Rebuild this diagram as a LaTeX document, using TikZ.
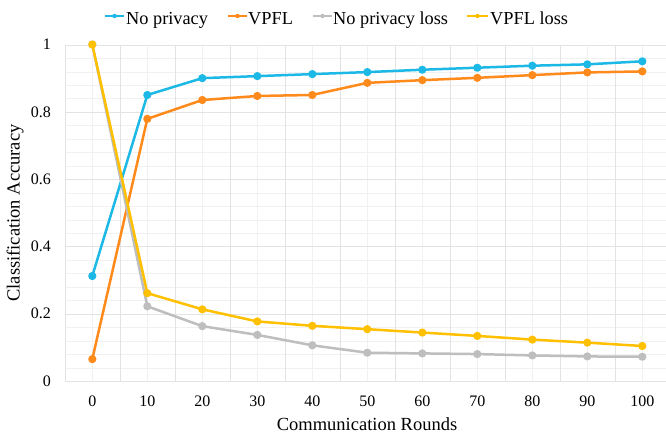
\documentclass[tikz,border=0pt]{standalone}
\usepackage{fontspec}
\setmainfont{Liberation Serif}
\usetikzlibrary{calc}
\definecolor{cBlue}{HTML}{1CB9E6}
\definecolor{cOrange}{HTML}{FF8A1C}
\definecolor{cGray}{HTML}{BEBEBE}
\definecolor{cYellow}{HTML}{FFC000}
\definecolor{gridMajor}{HTML}{E3E3E3}
\definecolor{gridMinor}{HTML}{F1F1F1}
\begin{document}
\begin{tikzpicture}[x=1pt,y=-1pt,
  series/.style={color=#1, line width=2.5pt, line join=round,
    mark=*, mark size=2.8pt, mark options={draw=none, fill=#1}},
  keyline/.style={color=#1, line width=2pt},
  keydot/.style={fill=#1, draw=none, circle, inner sep=0pt, minimum size=4.4pt},
  keytext/.style={anchor=base west, inner sep=0pt, font=\fontsize{18.3}{20}\selectfont},
  ticklab/.style={inner sep=0pt, font=\fontsize{16}{18}\selectfont},
  axtitle/.style={inner sep=0pt, font=\fontsize{18.5}{20}\selectfont}]
\useasboundingbox (0,0) rectangle (666,435);
\fill[white] (0,0) rectangle (666,435);

% grid: minor lines first, then major lines
\begin{scope}
  \clip (64.5,44.5) rectangle (666,381.5);
  \foreach \k in {0,...,25}
    \draw[gridMinor, line width=0.8pt] (65,{45+13.46*\k}) -- (666,{45+13.46*\k});
  \foreach \k in {0,...,10}
    \draw[gridMinor, line width=0.8pt] ({92.3+55*\k},45) -- ({92.3+55*\k},381);
  \foreach \k in {0,...,5}
    \draw[gridMajor, line width=0.8pt] (65,{45+67.3*\k}) -- (666,{45+67.3*\k});
  \foreach \k in {0,...,10}
    \draw[gridMajor, line width=0.8pt] ({65+55*\k},45) -- ({65+55*\k},381);
\end{scope}

% axis tick labels
\foreach \v [count=\i from 0] in {0,10,20,30,40,50,60,70,80,90,100}
  \node[ticklab] (xt\i) at ({92.3+55*\i},401) {\v};
\foreach \v [count=\i from 0] in {0,0.2,0.4,0.6,0.8,1}
  \node[ticklab, anchor=east] (yt\i) at (51,{381-67.3*\i}) {\v};

% axis titles
\node[axtitle] (xtitle) at (367,424) {Communication Rounds};
\node[axtitle, rotate=90] (ytitle) at (15,213) {Classification Accuracy};

% data series (rounds on x, value on y)
\begin{scope}[shift={(92.3pt,-381pt)}, x=5.5pt, y=336.5pt]
  \draw[series=cBlue] plot coordinates {(0,0.312) (10,0.850) (20,0.900) (30,0.906)
    (40,0.912) (50,0.918) (60,0.925) (70,0.931) (80,0.937) (90,0.941) (100,0.950)};
  \draw[series=cOrange] plot coordinates {(0,0.065) (10,0.779) (20,0.835) (30,0.847)
    (40,0.850) (50,0.886) (60,0.894) (70,0.901) (80,0.909) (90,0.917) (100,0.920)};
  \draw[series=cGray] plot coordinates {(0,1.0) (10,0.222) (20,0.163) (30,0.137)
    (40,0.106) (50,0.084) (60,0.082) (70,0.080) (80,0.076) (90,0.073) (100,0.072)};
  \draw[series=cYellow] plot coordinates {(0,1.0) (10,0.261) (20,0.213) (30,0.177)
    (40,0.164) (50,0.154) (60,0.144) (70,0.134) (80,0.123) (90,0.114) (100,0.104)};
\end{scope}

% legend
\coordinate (k1a) at (105,16); \coordinate (k1b) at (124,16);
\draw[keyline=cBlue] (k1a) -- (k1b);
\node[keydot=cBlue] (d1) at ($(k1a)!0.5!(k1b)$) {};
\node[keytext] (t1) at (126,24.5) {No privacy};
\coordinate (k2a) at (228,16); \coordinate (k2b) at (247,16);
\draw[keyline=cOrange] (k2a) -- (k2b);
\node[keydot=cOrange] (d2) at ($(k2a)!0.5!(k2b)$) {};
\node[keytext] (t2) at (248,24.5) {VPFL};
\coordinate (k3a) at (313,16); \coordinate (k3b) at (332,16);
\draw[keyline=cGray] (k3a) -- (k3b);
\node[keydot=cGray] (d3) at ($(k3a)!0.5!(k3b)$) {};
\node[keytext] (t3) at (333,24.5) {No privacy loss};
\coordinate (k4a) at (467,16); \coordinate (k4b) at (488,16);
\draw[keyline=cYellow] (k4a) -- (k4b);
\node[keydot=cYellow] (d4) at ($(k4a)!0.5!(k4b)$) {};
\node[keytext] (t4) at (490,24.5) {VPFL loss};
\end{tikzpicture}
\end{document}
